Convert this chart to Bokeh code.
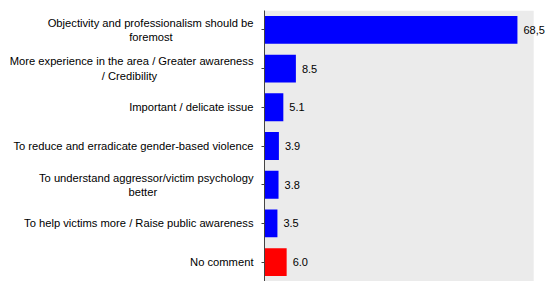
from bokeh.plotting import figure
from bokeh.models import ColumnDataSource, FactorRange, Range1d, LabelSet, BoxAnnotation
from bokeh.core.properties import value
from bokeh.embed import file_html
from bokeh.resources import INLINE

NB = "\u00a0"
categories = [
    "Objectivity and professionalism should be\nforemost" + NB * 26,
    "More experience in the area / Greater awareness\n/ Credibility" + NB * 31,
    "Important / delicate issue",
    "To reduce and erradicate gender-based violence",
    "To understand aggressor/victim psychology\nbetter" + NB * 31,
    "To help victims more / Raise public awareness",
    "No comment",
]
values = [68.5, 8.5, 5.1, 3.9, 3.8, 3.5, 6.0]
value_labels = ["68,5", "8.5", "5.1", "3.9", "3.8", "3.5", "6.0"]
colors = ["#0000ff", "#0000ff", "#0000ff", "#0000ff", "#0000ff", "#0000ff", "#ff0000"]

src = ColumnDataSource(dict(cat=categories, val=values, lab=value_labels, col=colors))

p = figure(
    width=545, height=281,
    y_range=FactorRange(*reversed(categories), range_padding=0),
    x_range=Range1d(0, 76.1),
    output_backend="svg", toolbar_location=None,
    min_border_top=10, min_border_bottom=0, min_border_right=0, min_border_left=264,
)
p.background_fill_color = "#ffffff"
p.add_layout(BoxAnnotation(left=0, right=72.9, fill_color="#ebebeb", fill_alpha=1.0,
                           line_color=None, level="underlay"))
p.hbar(y="cat", right="val", left=0, height=0.72, fill_color="col", line_color=None, source=src)
labels = LabelSet(x="val", y="cat", text="lab", source=src, x_offset=6, y_offset=0,
                  text_font=value("Liberation Sans"), text_font_size="11px",
                  text_baseline="middle", text_color="#000000")
p.add_layout(labels)

p.xaxis.visible = False
p.xgrid.visible = False
p.ygrid.visible = False
p.outline_line_color = None
p.border_fill_color = "#ffffff"

ya = p.yaxis[0]
ya.axis_line_color = "#444444"
ya.major_tick_out = 3
ya.major_tick_in = 0
ya.major_tick_line_color = "#444444"
ya.minor_tick_line_color = None
ya.major_label_text_font = "Liberation Sans"
ya.major_label_text_font_size = "11.2px"
ya.major_label_text_color = "#000000"
ya.major_label_standoff = 8

open("out.html", "w").write(file_html(p, INLINE))
